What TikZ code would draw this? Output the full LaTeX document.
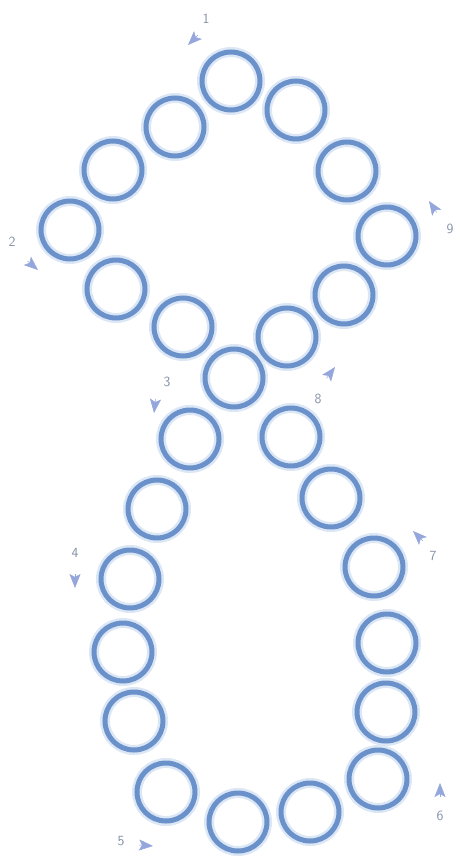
\documentclass[tikz,border=0pt]{standalone}
\usepackage{xcolor}
\usepackage{tikz}
\usetikzlibrary{
  arrows.meta,
  positioning,
  calc
}
\definecolor{lpRing}{HTML}{6B91CB}
\definecolor{lpGlow}{HTML}{DCE7F6}
\definecolor{lpTip}{HTML}{94A6DC}
\definecolor{lpText}{HTML}{8390A6}
\tikzset{
  ring/.style={
    circle, draw=lpRing, line width=5pt, minimum size=58pt, inner sep=0pt,
    preaction={draw=lpGlow, line width=10pt}
  },
  tipmark/.style={-{Stealth[length=14pt, width=11pt, inset=3pt]}, draw=lpTip, line width=0.5pt},
  numtag/.style={font=\sffamily\fontsize{14}{14}\selectfont, text=lpText, inner sep=1pt}
}
\begin{document}
\begin{tikzpicture}[x=1pt, y=-1pt]
  \useasboundingbox (0,0) rectangle (459,861);
  % upper loop
  \node[ring] (c1) at (231,81) {};
  \node[ring] (c2) at (296,110) {}; \node[ring] (c3) at (347,171) {};
  \node[ring] (c4) at (387,236) {}; \node[ring] (c5) at (344,295) {};
  \node[ring] (c6) at (287,337) {};
  \node[ring] (c7) at (175,127) {}; \node[ring] (c8) at (113,170) {};
  \node[ring] (c9) at (70,230) {};  \node[ring] (c10) at (116,289) {};
  \node[ring] (c11) at (183,327) {};
  % crossing
  \node[ring] (c12) at (234,378) {};
  % lower loop
  \node[ring] (c13) at (190,439) {}; \node[ring] (c14) at (157,509) {};
  \node[ring] (c15) at (130,579) {}; \node[ring] (c16) at (123,652) {};
  \node[ring] (c17) at (134,721) {}; \node[ring] (c18) at (166,792) {};
  \node[ring] (c19) at (238,822) {}; \node[ring] (c20) at (310,812) {};
  \node[ring] (c21) at (378,779) {}; \node[ring] (c22) at (386,712) {};
  \node[ring] (c23) at (387,643) {}; \node[ring] (c24) at (374,567) {};
  \node[ring] (c25) at (331,498) {}; \node[ring] (c26) at (291,437) {};

  % direction marks
  \coordinate (t1a) at (198,35);     \coordinate (t1b) at (188,45);
  \coordinate (t2a) at (27.5,261);   \coordinate (t2b) at (38,270);
  \coordinate (t3a) at (155.5,399);  \coordinate (t3b) at (154,413);
  \coordinate (t4a) at (75,574);     \coordinate (t4b) at (75,588);
  \coordinate (t5a) at (139,845);    \coordinate (t5b) at (153,846);
  \coordinate (t6a) at (440,797);    \coordinate (t6b) at (440,783);
  \coordinate (t7a) at (423,541);    \coordinate (t7b) at (413,531);
  \coordinate (t8a) at (326.6,378.2);\coordinate (t8b) at (335,367);
  \coordinate (t9a) at (436.7,212.6);\coordinate (t9b) at (429,201);
  \draw[tipmark] (t1a) -- (t1b); \draw[tipmark] (t2a) -- (t2b);
  \draw[tipmark] (t3a) -- (t3b); \draw[tipmark] (t4a) -- (t4b);
  \draw[tipmark] (t5a) -- (t5b); \draw[tipmark] (t6a) -- (t6b);
  \draw[tipmark] (t7a) -- (t7b); \draw[tipmark] (t8a) -- (t8b);
  \draw[tipmark] (t9a) -- (t9b);

  \node[numtag] (n1) at (206,19) {1};
  \node[numtag] (n2) at (12,242) {2};
  \node[numtag] (n3) at (167,382) {3};
  \node[numtag] (n4) at (75,553) {4};
  \node[numtag] (n5) at (121,841) {5};
  \node[numtag] (n6) at (440,816) {6};
  \node[numtag] (n7) at (433,556) {7};
  \node[numtag] (n8) at (318,399) {8};
  \node[numtag] (n9) at (450,229) {9};
\end{tikzpicture}
\end{document}
